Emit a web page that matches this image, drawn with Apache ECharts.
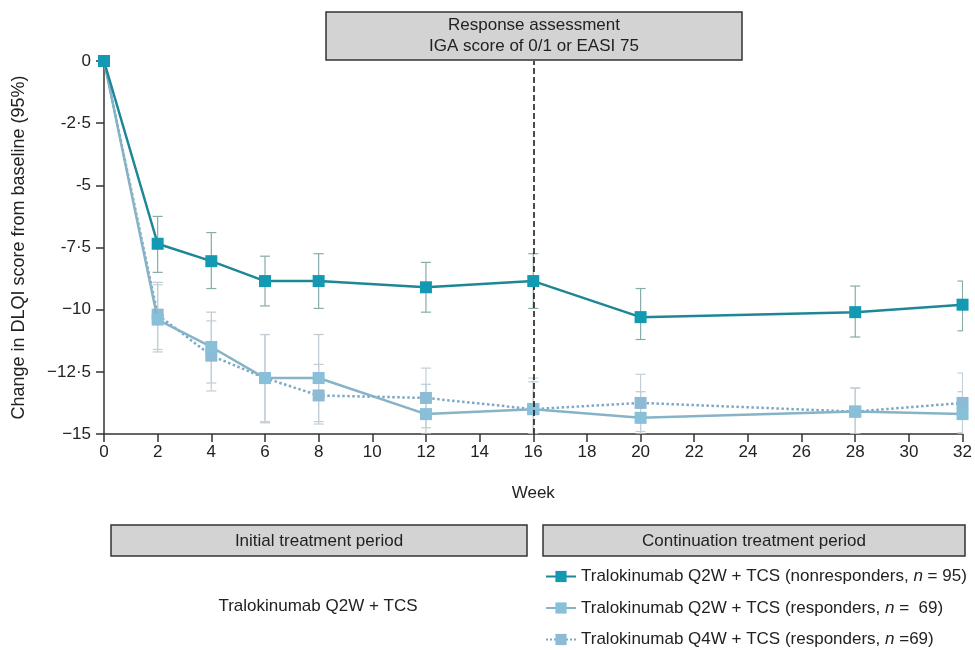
<!DOCTYPE html>
<html>
<head>
<meta charset="utf-8">
<script src="https://cdn.jsdelivr.net/npm/echarts@6/dist/echarts.min.js"></script>
<style>html,body{margin:0;padding:0;background:#fff}#c{width:975px;height:650px}</style>
</head>
<body>
<div id="c"></div>
<script>
// ---- data ----
var weeks = [0, 2, 4, 6, 8, 12, 16, 20, 28, 32];
var yTickLabels = {'0':'0','-2.5':'-2·5','-5':'-5','-7.5':'-7·5','-10':'−10','-12.5':'−12·5','-15':'−15'};

var nonResp     = [0, -7.35, -8.05, -8.85, -8.85, -9.1, -8.85, -10.3, -10.1, -9.8];
var nonRespLow  = [0, -8.5, -9.15, -9.85, -9.95, -10.1, -9.95, -11.2, -11.1, -10.85];
var nonRespHigh = [0, -6.25, -6.9, -7.85, -7.75, -8.1, -7.75, -9.15, -9.05, -8.85];

var q2wResp     = [0, -10.4, -11.5, -12.75, -12.75, -14.2, -14.0, -14.35, -14.1, -14.2];
var q2wLow      = [0, -11.7, -12.95, -14.55, -14.5, -15.0, -15.0, -15.0, -15.0, -15.0];
var q2wHigh     = [0, -8.9, -10.1, -11.0, -11.0, -13.0, -12.9, -13.3, -13.15, -13.3];

var q4wResp     = [0, -10.2, -11.85, -12.75, -13.45, -13.55, -14.0, -13.75, -14.1, -13.75];
var q4wLow      = [0, -11.6, -13.27, -14.5, -14.6, -14.75, -15.0, -14.9, -15.0, -14.95];
var q4wHigh     = [0, -9.0, -10.45, -11.0, -12.2, -12.35, -12.75, -12.6, -13.15, -12.55];

var names = [
  'Tralokinumab Q2W + TCS (nonresponders, n = 95)',
  'Tralokinumab Q2W + TCS (responders, n =  69)',
  'Tralokinumab Q4W + TCS (responders, n =69)'
];

function pts(v){ return weeks.map(function(w,i){ return [w, v[i]]; }); }
function errPts(lo, hi){ return weeks.map(function(w,i){ return [w, lo[i], hi[i]]; }).filter(function(d){return d[0]!==0;}); }

function errSeries(lo, hi, color){
  return {
    type: 'custom',
    data: errPts(lo, hi),
    encode: {x: 0, y: [1, 2]},
    z: 1,
    silent: true,
    clip: true,
    renderItem: function(params, api){
      var x = api.value(0);
      var a = api.coord([x, api.value(1)]);
      var b = api.coord([x, api.value(2)]);
      var hw = 5;
      var st = {stroke: color, lineWidth: 1.2};
      return {type:'group', children:[
        {type:'line', shape:{x1:a[0],y1:a[1],x2:b[0],y2:b[1]}, style:st},
        {type:'line', shape:{x1:a[0]-hw,y1:a[1],x2:a[0]+hw,y2:a[1]}, style:st},
        {type:'line', shape:{x1:b[0]-hw,y1:b[1],x2:b[0]+hw,y2:b[1]}, style:st}
      ]};
    }
  };
}

var FONT = 'Liberation Sans, Arial, sans-serif';
var FS = 17;
function txt(x, y, s){
  return {type: 'text', x: x, y: y, style: {text: s, fill: '#222', font: FS + 'px ' + FONT, textAlign: 'center', textVerticalAlign: 'middle'}};
}
var chart = echarts.init(document.getElementById('c'));
chart.setOption({
  animation: false,
  backgroundColor: '#fff',
  textStyle: {fontFamily: FONT},
  grid: {left: 104, right: 10, top: 61, bottom: 216},
  xAxis: {
    type: 'value', min: 0, max: 32, interval: 2,
    name: 'Week', nameLocation: 'middle', nameGap: 51,
    nameTextStyle: {fontSize: FS, color: '#222', fontFamily: FONT},
    axisLine: {onZero: false, lineStyle: {color: '#333', width: 1.5}},
    axisTick: {length: 8, lineStyle: {color: '#333', width: 1.5}},
    axisLabel: {fontSize: FS, color: '#222', margin: 10, fontFamily: FONT},
    splitLine: {show: false}
  },
  yAxis: {
    type: 'value', min: -15, max: 0, interval: 2.5,
    name: 'Change in DLQI score from baseline (95%)', nameLocation: 'middle', nameGap: 76,
    nameTextStyle: {fontSize: 18, color: '#222', fontFamily: FONT},
    axisLine: {show: true, onZero: false, lineStyle: {color: '#333', width: 1.5}},
    axisTick: {show: true, length: 8, lineStyle: {color: '#333', width: 1.5}},
    axisLabel: {fontSize: FS, color: '#222', margin: 13, fontFamily: FONT,
      formatter: function(v){ var k = String(v); return yTickLabels[k] !== undefined ? yTickLabels[k] : k; }},
    splitLine: {show: false}
  },
  legend: {
    orient: 'vertical', left: 545, top: 568, itemGap: 14.5, padding: 0,
    itemWidth: 30, itemHeight: 14,
    data: names,
    textStyle: {fontSize: FS, color: '#222', fontFamily: FONT,
      rich: {i: {fontStyle: 'italic', fontSize: FS, color: '#222', fontFamily: FONT}}},
    formatter: function(n){ return n.replace(' n ', ' {i|n} '); }
  },
  series: [
    errSeries(nonRespLow, nonRespHigh, '#86aca8'),
    errSeries(q2wLow, q2wHigh, '#bccbd3'),
    errSeries(q4wLow, q4wHigh, '#c2cfd6'),
    {
      name: names[2], type: 'line', data: pts(q4wResp), z: 3,
      symbol: 'rect', symbolSize: 12,
      lineStyle: {color: '#7ea8c4', width: 2.5, type: 'dotted'},
      itemStyle: {color: '#8dbbd6'}
    },
    {
      name: names[1], type: 'line', data: pts(q2wResp), z: 4,
      symbol: 'rect', symbolSize: 12,
      lineStyle: {color: '#86b3c6', width: 2.5},
      itemStyle: {color: '#88bfd9'}
    },
    {
      name: names[0], type: 'line', data: pts(nonResp), z: 5,
      symbol: 'rect', symbolSize: 12,
      lineStyle: {color: '#1d8795', width: 2.5},
      itemStyle: {color: '#1499b3'},
      markLine: {
        silent: true, symbol: 'none', label: {show: false},
        lineStyle: {color: '#111', type: 'dashed', width: 1.5},
        data: [{xAxis: 16}]
      }
    }
  ],
  graphic: [
    {type: 'rect', shape: {x: 326, y: 12, width: 416, height: 48},
      style: {fill: '#d3d3d3', stroke: '#333', lineWidth: 1.5}},
    txt(534, 25, 'Response assessment'),
    txt(534, 46, 'IGA score of 0/1 or EASI 75'),
    {type: 'rect', shape: {x: 111, y: 525, width: 416, height: 31},
      style: {fill: '#d3d3d3', stroke: '#333', lineWidth: 1.5}},
    {type: 'rect', shape: {x: 543, y: 525, width: 422, height: 31},
      style: {fill: '#d3d3d3', stroke: '#333', lineWidth: 1.5}},
    txt(319, 541, 'Initial treatment period'),
    txt(754, 541, 'Continuation treatment period'),
    txt(318, 606, 'Tralokinumab Q2W + TCS')
  ]
});
</script>
</body>
</html>
